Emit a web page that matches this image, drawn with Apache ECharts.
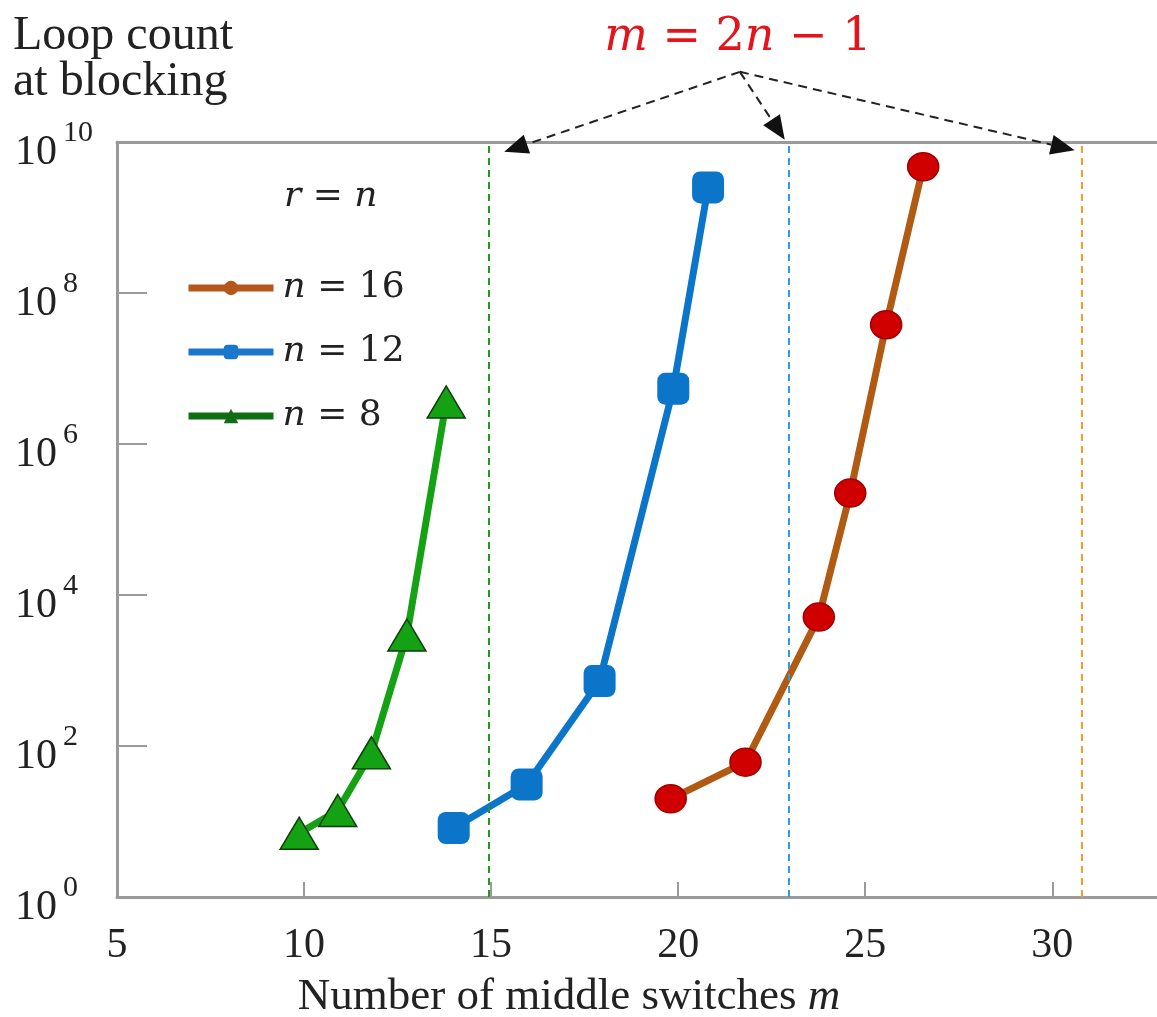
<!DOCTYPE html>
<html>
<head>
<meta charset="utf-8">
<script src="https://cdn.jsdelivr.net/npm/echarts@6/dist/echarts.min.js"></script>
<style>
  html, body { margin: 0; padding: 0; background: #fff; }
  #chart { width: 1157px; height: 1017px; }
</style>
</head>
<body>
<div id="chart"></div>
<script>
// values (x = middle switches m, y = loop count)
const n8X = [9.87, 10.9, 11.8, 12.75, 13.8];
const n8Y = [7, 14, 81, 2950, 3.6e6];
const n12X = [14.0, 15.95, 17.9, 19.87, 20.8];
const n12Y = [8.2, 31, 725, 5.4e6, 2.5e9];
const n16X = [19.8, 21.8, 23.76, 24.6, 25.56, 26.55];
const n16Y = [20, 61, 5100, 2.24e5, 3.8e7, 4.7e9];

// m = 2n - 1 guide lines (as drawn)
const guideX = [14.95, 22.95, 30.8];
const guideColors = ["#1f9a1f", "#2b9fe0", "#f0a020"];

// arrow annotation (data coords)
const arrowFrom = [21.65, 8.5e10];
const arrowTo = [[15.35, 7.4e9], [22.85, 1.07e10], [30.6, 7.8e9]];

const xTicks = [5, 10, 15, 20, 25, 30];

const SERIF = "'Liberation Serif', 'DejaVu Serif', serif";
const MATH = "'DejaVu Serif', serif";

function zip(xs, ys) {
  return xs.map(function (x, i) { return [x, ys[i]]; });
}

var chart = echarts.init(document.getElementById("chart"));

var option = {
  animation: false,
  backgroundColor: "#fff",
  grid: { left: 117, right: 0, top: 142, bottom: 120, outerBoundsMode: "none", containLabel: false },
  legend: {
    left: 180,
    top: 262,
    orient: "vertical",
    itemWidth: 85,
    itemHeight: 18,
    itemGap: 22,
    data: [
      { name: "n = 16", itemStyle: { color: "#b5561a", borderWidth: 0 }, lineStyle: { color: "#b5561a", width: 7 } },
      { name: "n = 12", itemStyle: { color: "#1a78cc", borderWidth: 0 }, lineStyle: { color: "#1a78cc", width: 7 } },
      { name: "n = 8", itemStyle: { color: "#0f6d12", borderWidth: 0 }, lineStyle: { color: "#0f6d12", width: 7 } }
    ],
    formatter: function (name) {
      return "{i|n}{t| = " + name.split("= ")[1] + "}";
    },
    textStyle: {
      color: "#222",
      fontFamily: MATH,
      fontSize: 36,
      lineHeight: 42,
      rich: {
        i: { fontFamily: MATH, fontStyle: "italic", fontSize: 36, color: "#222", padding: [0, 0, 0, 4] },
        t: { fontFamily: MATH, fontSize: 36, color: "#222" }
      }
    }
  },
  xAxis: [
    {
      type: "value",
      min: 5,
      max: 32.8,
      interval: 5,
      name: "{t|Number of middle switches }{i|m}",
      nameLocation: "middle",
      nameGap: 78,
      nameTextStyle: {
        padding: [0, 136, 0, 0],
        rich: {
          t: { fontFamily: SERIF, fontSize: 45, color: "#222" },
          i: { fontFamily: SERIF, fontSize: 45, fontStyle: "italic", color: "#222" }
        }
      },
      axisLine: { lineStyle: { color: "#9a9a9a", width: 3 } },
      axisTick: { inside: true, length: 15, lineStyle: { color: "#9a9a9a", width: 2 } },
      axisLabel: {
        margin: 28,
        fontFamily: SERIF,
        fontSize: 42,
        color: "#222",
        showMaxLabel: false,
        formatter: function (v) { return xTicks.indexOf(v) >= 0 ? String(v) : ""; }
      },
      splitLine: { show: false }
    },
    {
      type: "value",
      position: "top",
      min: 5,
      max: 32.8,
      axisLine: { show: true, lineStyle: { color: "#9a9a9a", width: 3 } },
      axisTick: { show: false },
      axisLabel: { show: false },
      splitLine: { show: false }
    }
  ],
  yAxis: {
    type: "log",
    logBase: 10,
    min: 1,
    max: 1e10,
    interval: 2,
    axisLine: { show: true, lineStyle: { color: "#9a9a9a", width: 3 } },
    axisTick: { show: true, inside: true, length: 30, lineStyle: { color: "#9a9a9a", width: 2 } },
    minorTick: { show: false },
    splitLine: { show: false },
    axisLabel: {
      margin: 102,
      align: "left",
      formatter: function (v) {
        var e = Math.round(Math.log10(v));
        return "{b|10}{s|" + e + "}";
      },
      rich: {
        b: { fontFamily: SERIF, fontSize: 42, color: "#222", padding: [22, 0, 0, 0] },
        s: { fontFamily: SERIF, fontSize: 30, color: "#222", padding: [0, 0, 18, 6] }
      }
    }
  },
  series: [
    {
      name: "n = 8",
      type: "line",
      data: zip(n8X, n8Y),
      symbol: "triangle",
      symbolSize: [38, 32],
      lineStyle: { color: "#14a214", width: 7 },
      itemStyle: { color: "#14a214", borderColor: "#0b3d0b", borderWidth: 1.5 },
      z: 3
    },
    {
      name: "n = 12",
      type: "line",
      data: zip(n12X, n12Y),
      symbol: "roundRect",
      symbolSize: 32,
      lineStyle: { color: "#0a75c9", width: 7 },
      itemStyle: { color: "#0a75c9", borderWidth: 0 },
      z: 3
    },
    {
      name: "n = 16",
      type: "line",
      data: zip(n16X, n16Y),
      symbol: "circle",
      symbolSize: [31, 28],
      lineStyle: { color: "#b05a12", width: 7 },
      itemStyle: { color: "#d00000", borderColor: "#a00000", borderWidth: 1.5 },
      z: 4
    },
    {
      name: "guides",
      type: "line",
      data: [],
      silent: true,
      markLine: {
        silent: true,
        symbol: ["none", "none"],
        label: { show: false },
        data: guideX.map(function (x, i) {
          return { xAxis: x, lineStyle: { color: guideColors[i], type: [7, 5], width: 2 } };
        })
      },
      z: 1
    }
  ]
};

chart.setOption(option);

// annotation graphics: axis title, r = n label, formula and dashed arrows
var graphics = [
  {
    type: "text", left: 13, top: 12,
    style: { text: "Loop count\nat blocking", font: "48px " + SERIF, fill: "#222", lineHeight: 46 }
  },
  {
    type: "text", left: 284, top: 179,
    style: {
      text: "{i|r} = {i|n}",
      fill: "#222",
      font: "36px " + MATH,
      rich: {
        i: { fontFamily: MATH, fontSize: 36, fontStyle: "italic", fill: "#222" }
      }
    }
  }
];

var p0 = chart.convertToPixel({ xAxisIndex: 0, yAxisIndex: 0 }, arrowFrom);

graphics.push({
  type: "text",
  x: p0[0] - 2,
  y: 38,
  style: {
    text: "{i|m} = 2{i|n} − 1",
    font: "46px " + MATH,
    fill: "#e3141c",
    align: "center",
    verticalAlign: "middle",
    rich: {
      i: { fontFamily: MATH, fontSize: 46, fontStyle: "italic", fill: "#e3141c" }
    }
  }
});

arrowTo.forEach(function (t) {
  var p1 = chart.convertToPixel({ xAxisIndex: 0, yAxisIndex: 0 }, t);
  var dx = p1[0] - p0[0], dy = p1[1] - p0[1];
  var len = Math.sqrt(dx * dx + dy * dy);
  var ux = dx / len, uy = dy / len;
  var headLen = 24, headW = 10;
  var bx = p1[0] - ux * headLen, by = p1[1] - uy * headLen;
  graphics.push({
    type: "line",
    shape: { x1: p0[0], y1: p0[1], x2: bx, y2: by },
    style: { stroke: "#222", lineWidth: 2, lineDash: [9, 6] },
    z: 10
  });
  graphics.push({
    type: "polygon",
    shape: { points: [
      [p1[0], p1[1]],
      [bx - uy * headW, by + ux * headW],
      [bx + uy * headW, by - ux * headW]
    ] },
    style: { fill: "#111" },
    z: 10
  });
});

chart.setOption({ graphic: graphics });
</script>
</body>
</html>
